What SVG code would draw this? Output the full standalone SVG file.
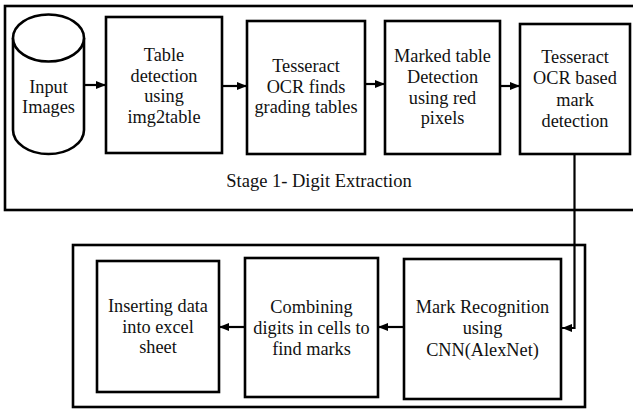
<svg xmlns="http://www.w3.org/2000/svg" width="633" height="412" viewBox="0 0 633 412">
<defs>
<marker id="ah" markerWidth="10" markerHeight="8" refX="10" refY="4" orient="auto" markerUnits="userSpaceOnUse">
<path d="M0,0 L10,4 L0,8 Z" fill="#000"/>
</marker>
<style>
.box{fill:#fff;stroke:#000;stroke-width:2.6}
.frame{fill:none;stroke:#000;stroke-width:2.6}
text{font-family:'Liberation Serif','DejaVu Serif',serif;fill:#111;text-anchor:middle}
.t{font-size:18.3px}
.lbl{font-size:18.5px}
.c{fill:none;stroke:#000;stroke-width:2.2}
</style>
</defs>
<rect width="633" height="412" fill="#fff"/>
<g id="stage1">
<rect class="frame" x="5" y="6" width="640" height="204"/>
<text class="lbl" x="319" y="187">Stage 1- Digit Extraction</text>
</g>
<g id="stage2">
<rect class="frame" x="73" y="245" width="512" height="162"/>
</g>
<g id="input">
<path class="box" d="M13,38 L13,130 A35.5,24 0 0 0 84,130 L84,38"/>
<ellipse class="box" cx="48.5" cy="38" rx="35.5" ry="23.5"/>
<text class="t" x="48.5" y="93">Input</text>
<text class="t" x="48.5" y="113">Images</text>
</g>
<g id="tabledet">
<rect class="box" x="106" y="17" width="116" height="136"/>
<text class="t" x="164" y="61">Table</text>
<text class="t" x="164" y="81.5">detection</text>
<text class="t" x="164" y="102">using</text>
<text class="t" x="164" y="122.5">img2table</text>
</g>
<g id="tessfind">
<rect class="box" x="247" y="21" width="118" height="133"/>
<text class="t" x="306" y="72">Tesseract</text>
<text class="t" x="306" y="92.5">OCR finds</text>
<text class="t" x="306" y="113">grading tables</text>
</g>
<g id="marked">
<rect class="box" x="385" y="21" width="115" height="133"/>
<text class="t" x="442.5" y="62">Marked table</text>
<text class="t" x="442.5" y="83">Detection</text>
<text class="t" x="442.5" y="104">using red</text>
<text class="t" x="442.5" y="124">pixels</text>
</g>
<g id="tessmark">
<rect class="box" x="520" y="24" width="110" height="130"/>
<text class="t" x="575" y="63">Tesseract</text>
<text class="t" x="575" y="84">OCR based</text>
<text class="t" x="575" y="105.5">mark</text>
<text class="t" x="575" y="127">detection</text>
</g>
<g id="insert">
<rect class="box" x="97" y="261" width="122" height="131"/>
<text class="t" x="158" y="312">Inserting data</text>
<text class="t" x="158" y="332.5">into excel</text>
<text class="t" x="158" y="353">sheet</text>
</g>
<g id="combine">
<rect class="box" x="245" y="258" width="133" height="139"/>
<text class="t" x="311.5" y="313">Combining</text>
<text class="t" x="311.5" y="333.5">digits in cells to</text>
<text class="t" x="311.5" y="355">find marks</text>
</g>
<g id="cnn">
<rect class="box" x="404" y="259" width="157" height="140"/>
<text class="t" x="482.5" y="313">Mark Recognition</text>
<text class="t" x="482.5" y="334">using</text>
<text class="t" x="482.5" y="356">CNN(AlexNet)</text>
</g>
<g id="connectors">
<line class="c" x1="84" y1="85" x2="106" y2="85" marker-end="url(#ah)"/>
<line class="c" x1="222" y1="86" x2="247" y2="86" marker-end="url(#ah)"/>
<line class="c" x1="365" y1="84" x2="385" y2="84" marker-end="url(#ah)"/>
<line class="c" x1="500" y1="86" x2="520" y2="86" marker-end="url(#ah)"/>
<path class="c" d="M574.5,154 L574.5,328 L562,328" marker-end="url(#ah)"/>
<line class="c" x1="404" y1="327" x2="378" y2="327" marker-end="url(#ah)"/>
<line class="c" x1="245" y1="327" x2="219" y2="327" marker-end="url(#ah)"/>
</g>
</svg>
